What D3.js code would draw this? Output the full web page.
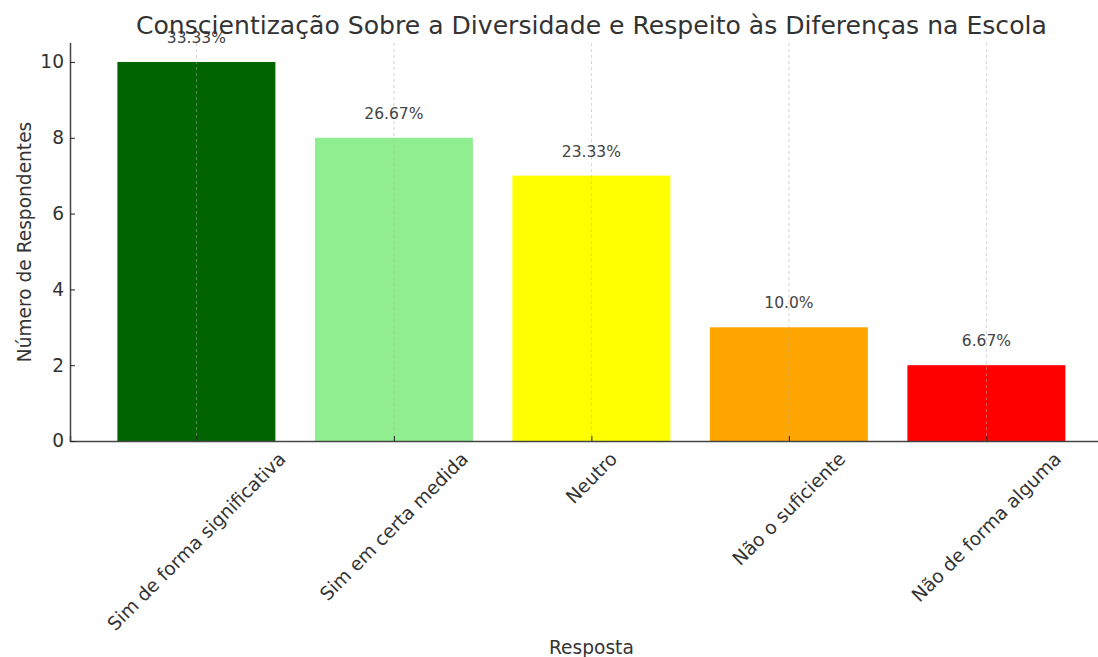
<!DOCTYPE html>
<html><head><meta charset="utf-8">
<script src="https://cdn.jsdelivr.net/npm/d3@7"></script>
<style>body{margin:0;background:#fff}svg{display:block}text{font-family:"DejaVu Sans",sans-serif}</style>
</head><body><svg id="c" width="1098" height="657"></svg>
<script>
const categories = ["Sim de forma significativa","Sim em certa medida","Neutro","Não o suficiente","Não de forma alguma"];
const values = [10, 8, 7, 3, 2];
const percentLabels = ["33.33%","26.67%","23.33%","10.0%","6.67%"];
const colors = ["#006400","#90EE90","#FFFF00","#FFA500","#FF0000"];
const yTicks = [0,2,4,6,8,10];

const svg = d3.select("#c");
const mLeft = 70, mTop = 43, mBottom = 441;
const pxPerUnit = 197.5;
const x = d3.scaleLinear().domain([-0.64, 4.64]).range([mLeft, mLeft + 5.28*pxPerUnit]);
const y = d3.scaleLinear().domain([0, 10.5]).range([mBottom, mTop]);
const textCol = "#333";
const fs = 18.6;

// bars
svg.selectAll("rect.bar").data(values).join("rect")
  .attr("x", (d,i)=>x(i-0.4)).attr("width", (d,i)=>x(i+0.4)-x(i-0.4))
  .attr("y", d=>y(d)).attr("height", d=>y(0)-y(d))
  .attr("fill", (d,i)=>colors[i]);

// vertical grid
svg.selectAll("line.grid").data(categories).join("line")
  .attr("x1",(d,i)=>x(i)).attr("x2",(d,i)=>x(i)).attr("y1",mTop).attr("y2",mBottom)
  .attr("stroke","#b0b0b0").attr("stroke-width",0.8).attr("stroke-dasharray","3,3").attr("opacity",0.7);

// axes
const xAxis = d3.axisBottom(x).tickValues(d3.range(categories.length)).tickSize(-5).tickFormat("");
const gx = svg.append("g").attr("transform",`translate(0,${mBottom})`).call(xAxis);
gx.select(".domain").attr("stroke","#444").attr("stroke-width",1.5);
gx.selectAll(".tick line").attr("stroke","#222");

const yAxis = d3.axisLeft(y).tickValues(yTicks).tickSize(-5).tickPadding(6);
const gy = svg.append("g").attr("transform",`translate(${mLeft},0)`).call(yAxis);
gy.select(".domain").attr("stroke","#444").attr("stroke-width",1.5).attr("d",`M0.5,${mTop}V${mBottom}`);
gy.selectAll(".tick line").attr("stroke","#222");
gy.selectAll(".tick text").attr("font-size",fs).attr("fill",textCol).attr("font-family","DejaVu Sans");

// rotated x tick labels (centered, rotated 45)
categories.forEach((c,i)=>{
  const t = svg.append("text").text(c).attr("font-size",fs).attr("fill",textCol)
    .attr("text-anchor","middle").attr("dominant-baseline","central");
  const w = t.node().getComputedTextLength();
  const cy = 449 + (w+fs)*Math.SQRT1_2/2;
  t.attr("transform",`translate(${x(i)},${cy}) rotate(-45)`);
});

// value labels
svg.selectAll("text.pl").data(values).join("text")
  .attr("x",(d,i)=>x(i)).attr("y",d=>y(d+0.5))
  .attr("text-anchor","middle").attr("font-size",15.5).attr("fill","#444")
  .text((d,i)=>percentLabels[i]);

// title and axis labels
svg.append("text").attr("x",x(2)).attr("y",34).attr("text-anchor","middle")
  .attr("font-size",25.1).attr("fill",textCol)
  .text("Conscientização Sobre a Diversidade e Respeito às Diferenças na Escola");
svg.append("text").attr("x",x(2)).attr("y",654).attr("text-anchor","middle")
  .attr("font-size",fs).attr("fill",textCol).text("Resposta");
svg.append("text").attr("transform",`translate(31,${(mTop+mBottom)/2}) rotate(-90)`)
  .attr("text-anchor","middle").attr("font-size",fs).attr("fill",textCol).text("Número de Respondentes");
</script></body></html>
